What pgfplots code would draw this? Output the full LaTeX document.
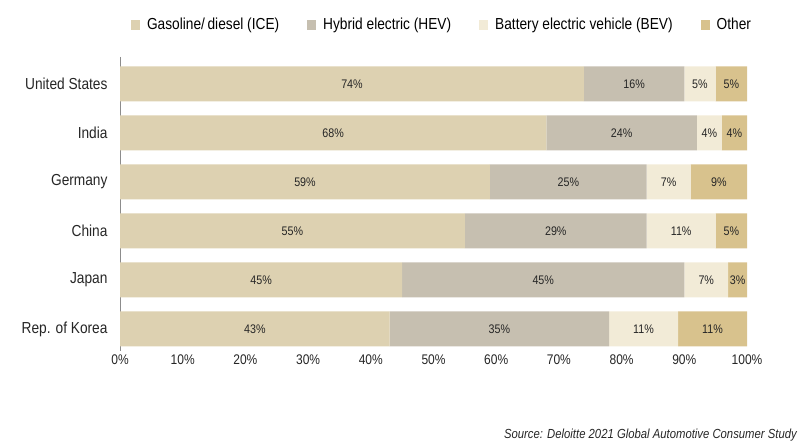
\documentclass[border=0pt]{standalone}
\usepackage{pgfplots}
\pgfplotsset{compat=1.18}
\usepackage{fontspec}
\setmainfont{Liberation Sans}[FakeStretch=0.86]

\definecolor{ice}{HTML}{DDD1B1}
\definecolor{hev}{HTML}{C6BFB0}
\definecolor{bev}{HTML}{F2EBD7}
\definecolor{oth}{HTML}{D8C28D}

\pgfplotsset{
  common/.style={
    at={(120bp,95bp)}, anchor=south west,
    scale only axis, width=627bp, height=294bp,
    xmin=0, xmax=100, ymin=-0.55, ymax=5.45, y dir=reverse,
  },
}

\begin{document}
\begin{tikzpicture}
\useasboundingbox (0,0) rectangle (800bp,446bp);
\begin{axis}[
  common,
  xbar stacked, bar width=35bp,
  ytick={0,...,5},
  yticklabels={United States,India,Germany,China,Japan,Rep. of Korea},
  xtick={0,10,...,100},
  xticklabel={\pgfmathprintnumber{\tick}\%},
  /pgf/number format/assume math mode=true,
  axis lines*=left, axis line style={-},
  x axis line style={draw=none},
  y axis line style={draw=black!45, line width=0.6pt},
  tick style={draw=none},
  ticklabel style={text=black!85},
  yticklabel style={font=\fontsize{16}{18}\selectfont, xshift=-9bp},
  xticklabel style={font=\fontsize{14}{16}\selectfont},
  legend style={at={(0.5136,1.109)}, anchor=center, draw=none,
    legend columns=-1, font=\fontsize{16}{18}\selectfont,
    /tikz/every odd column/.append style={column sep=5bp},
    /tikz/every even column/.append style={column sep=26bp}},
  legend image code/.code={\fill[#1] (0bp,-5bp) rectangle (9bp,5bp);},
]
\addplot[fill=ice, draw=none] coordinates {(74,0) (68,1) (59,2) (55,3) (45,4) (43,5)};
\addplot[fill=hev, draw=none] coordinates {(16,0) (24,1) (25,2) (29,3) (45,4) (35,5)};
\addplot[fill=bev, draw=none] coordinates {(5,0) (4,1) (7,2) (11,3) (7,4) (11,5)};
\addplot[fill=oth, draw=none] coordinates {(5,0) (4,1) (9,2) (5,3) (3,4) (11,5)};
\legend{Gasoline/\,diesel (ICE), Hybrid electric (HEV), Battery electric vehicle (BEV), Other}
\end{axis}
\begin{axis}[
  common, hide axis,
  nodes near coords, point meta=explicit symbolic,
  nodes near coords style={anchor=center, font=\fontsize{12.5}{14}\selectfont, text=black!85},
]
\addplot[draw=none, mark=none] coordinates {
  (37,0)[74\%] (82,0)[16\%] (92.5,0)[5\%] (97.5,0)[5\%]
  (34,1)[68\%] (80,1)[24\%] (94,1)[4\%] (98,1)[4\%]
  (29.5,2)[59\%] (71.5,2)[25\%] (87.5,2)[7\%] (95.5,2)[9\%]
  (27.5,3)[55\%] (69.5,3)[29\%] (89.5,3)[11\%] (97.5,3)[5\%]
  (22.5,4)[45\%] (67.5,4)[45\%] (93.5,4)[7\%] (98.5,4)[3\%]
  (21.5,5)[43\%] (60.5,5)[35\%] (83.5,5)[11\%] (94.5,5)[11\%]
};
\end{axis}
\node[anchor=base east, inner sep=0pt, font=\itshape\fontsize{13.2}{15}\selectfont, text=black!85] at (797bp,8bp)
  {Source: Deloitte 2021 Global Automotive Consumer Study};
\end{tikzpicture}
\end{document}
